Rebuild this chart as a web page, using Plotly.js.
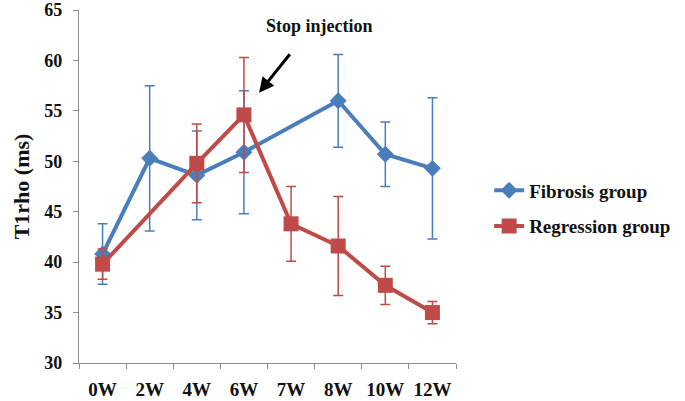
<!DOCTYPE html>
<html>
<head>
<meta charset="utf-8">
<script src="https://cdn.plot.ly/plotly-3.0.1.min.js"></script>
<style>html,body{margin:0;padding:0;background:#fff;}#chart{width:685px;height:401px;}</style>
</head>
<body>
<div id="chart"></div>
<script>
const weeks = ["0W", "2W", "4W", "6W", "7W", "8W", "10W", "12W"];
const fibrosisMean = [40.8, 50.3, 48.6, 50.9, null, 56.0, 50.7, 49.3];
const fibrosisErr = [3.0, 7.2, 4.4, 6.1, null, 4.6, 3.2, 7.0];
const regressionMean = [39.8, null, 49.8, 54.6, 43.8, 41.6, 37.7, 35.0];
const regressionErr = [1.5, null, 3.9, 5.7, 3.7, 4.9, 1.9, 1.1];
const yTicks = [30, 35, 40, 45, 50, 55, 60, 65];

const blue = "#4A7EBB";
const red = "#BE4B48";
const serif = "Liberation Serif, Times New Roman, serif";

const traces = [
  {
    x: weeks, y: fibrosisMean, name: "Fibrosis group", type: "scatter", mode: "lines+markers",
    connectgaps: true, legendgroup: "a",
    line: {color: blue, width: 4},
    marker: {symbol: "diamond", size: 13, color: blue},
    error_y: {type: "data", array: fibrosisErr, visible: true, color: blue, thickness: 1.5, width: 5}
  },
  {
    x: weeks, y: regressionMean, name: "Regression group", type: "scatter", mode: "lines+markers",
    connectgaps: true, legendgroup: "b",
    line: {color: red, width: 4},
    marker: {symbol: "square", size: 15, color: red},
    error_y: {type: "data", array: regressionErr, visible: true, color: red, thickness: 1.5, width: 5}
  }
];

const layout = {
  width: 685, height: 401,
  margin: {l: 79, r: 228, t: 10, b: 38},
  paper_bgcolor: "#fff", plot_bgcolor: "#fff",
  font: {family: serif, color: "#111"},
  showlegend: true,
  legend: {
    x: 1.085, y: 0.438, xanchor: "left", yanchor: "middle",
    font: {family: serif, size: 19, color: "#111", weight: "bold"},
    tracegroupgap: 8, bgcolor: "rgba(0,0,0,0)"
  },
  xaxis: {
    type: "category", range: [-0.5, 7.5],
    showline: true, linecolor: "#8c8c8c", linewidth: 1.2,
    ticks: "outside", tickson: "boundaries", ticklen: 5, tickcolor: "#8c8c8c",
    showgrid: false, zeroline: false, ticklabelstandoff: 9,
    tickfont: {family: serif, size: 19, color: "#111", weight: "bold"}
  },
  yaxis: {
    range: [30, 65], tickvals: yTicks,
    showline: true, linecolor: "#8c8c8c", linewidth: 1.2,
    ticks: "outside", ticklen: 5, tickcolor: "#8c8c8c",
    showgrid: false, zeroline: false, ticklabelstandoff: 7,
    tickfont: {family: serif, size: 18, color: "#111", weight: "bold"},
    title: {text: "T1rho (ms)", standoff: 8, font: {family: serif, size: 22, color: "#111", weight: "bold"}}
  },
  annotations: [
    {
      x: 3.32, y: 56.8, xref: "x", yref: "y", text: "",
      showarrow: true, arrowhead: 2, arrowsize: 1, arrowwidth: 3, arrowcolor: "#000",
      ax: 32, ay: -40
    },
    {
      x: 4.6, y: 63.4, xref: "x", yref: "y", text: "Stop injection", showarrow: false,
      font: {family: serif, size: 18, color: "#111", weight: "bold"}
    }
  ]
};

Plotly.newPlot("chart", traces, layout, {displayModeBar: false, staticPlot: true});
</script>
</body>
</html>
